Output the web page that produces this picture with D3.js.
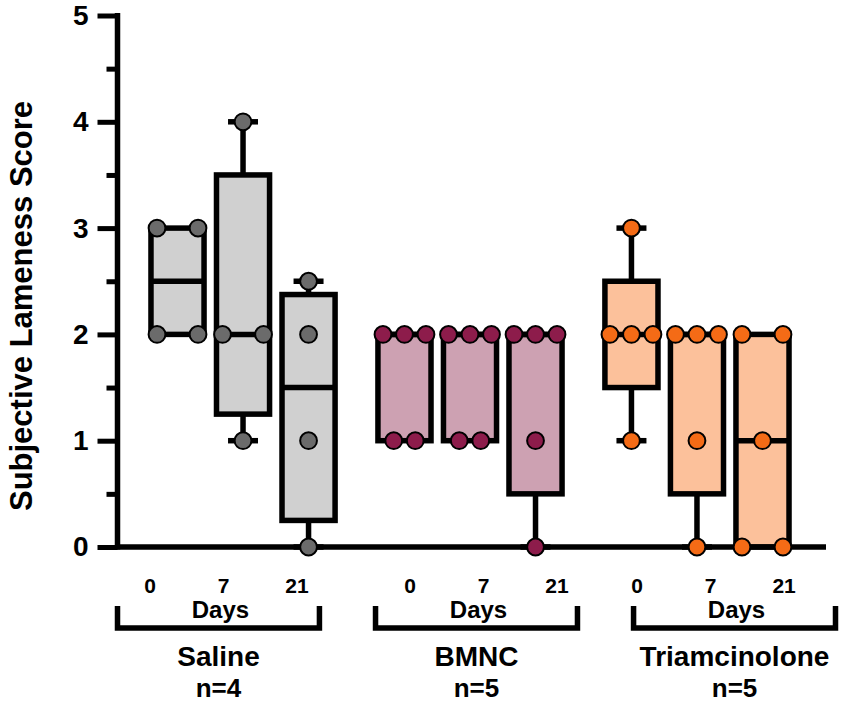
<!DOCTYPE html>
<html>
<head>
<meta charset="utf-8">
<script src="https://cdn.jsdelivr.net/npm/d3@7"></script>
<style>
  html, body { margin: 0; padding: 0; background: #ffffff; }
  svg { display: block; font-family: "Liberation Sans", Arial, sans-serif; }
</style>
</head>
<body>
<svg id="chart" width="851" height="714"></svg>
<script>
// ---------------- data ----------------
const groups = ["Saline", "BMNC", "Triamcinolone"];
const groupN = ["n=4", "n=5", "n=5"];
const days = ["0", "7", "21"];
const salineScores = [[3, 3, 2, 2], [4, 2, 2, 1], [2.5, 2, 1, 0]];
const bmncScores   = [[2, 2, 2, 1, 1], [2, 2, 2, 1, 1], [2, 2, 2, 1, 0]];
const triamScores  = [[3, 2, 2, 2, 1], [2, 2, 2, 1, 0], [2, 2, 1, 0, 0]];
const yTicks = [0, 1, 2, 3, 4, 5];
const yMinorTicks = [0.5, 1.5, 2.5, 3.5, 4.5];
const boxFills = ["#d0d0d0", "#cda1b2", "#fcc19b"];
const pointFills = ["#6b6b6b", "#8d1c4b", "#f46b16"];

// ---------------- layout ----------------
const svg = d3.select("#chart");
const axisX = 117.5;
const plotRight = 826;

const y = d3.scaleLinear().domain([0, 5]).range([547, 15.5]);
const xGroup = d3.scaleBand().domain(groups).range([144.75, 795.25]).paddingInner(0.134).paddingOuter(0);
const xDay = d3.scaleBand().domain(days).range([0, xGroup.bandwidth()]).padding(0);
const boxW = xDay.step() * 0.81;

// annotation (bracket) scales
const xBracket = d3.scaleBand().domain(groups).range([115, 838]).paddingInner(0.198).paddingOuter(0);
const xDayLabel = d3.scalePoint().domain(days).range([35, 182]);
const dayLabelShift = { "Saline": 0, "BMNC": 2, "Triamcinolone": -29 };

const allScores = [salineScores, bmncScores, triamScores];

// Prism-style quartiles (n+1 method)
function q(sorted, p) {
  const n = sorted.length;
  let pos = p * (n + 1);
  if (pos < 1) pos = 1;
  if (pos > n) pos = n;
  const lo = Math.floor(pos), hi = Math.ceil(pos);
  return sorted[lo - 1] + (pos - lo) * (sorted[hi - 1] - sorted[lo - 1]);
}

const boxes = [];
groups.forEach((g, gi) => {
  days.forEach((d, di) => {
    const vals = allScores[gi][di];
    const s = vals.slice().sort((a, b) => a - b);
    const cx = xGroup(g) + xDay(d) + xDay.bandwidth() / 2;
    // swarm offsets
    const counts = d3.rollup(vals, v => v.length, v => v);
    const maxK = d3.max(Array.from(counts.values()));
    const unit = maxK >= 3 ? 21.5 : 41;
    const pts = [];
    const order = Array.from(counts.keys()).sort((a, b) => b - a);
    order.forEach(v => {
      const k = counts.get(v);
      for (let j = 0; j < k; j++) pts.push({ v, dx: (j - (k - 1) / 2) * unit });
    });
    boxes.push({
      gi, cx,
      min: s[0], max: s[s.length - 1],
      q1: q(s, 0.25), med: q(s, 0.5), q3: q(s, 0.75),
      pts
    });
  });
});

const ink = "#000000";
const lw = 5.5;

// boxes
const gBox = svg.append("g");
boxes.forEach(b => {
  // whiskers
  if (b.max > b.q3) {
    gBox.append("line").attr("x1", b.cx).attr("x2", b.cx).attr("y1", y(b.q3)).attr("y2", y(b.max))
      .attr("stroke", ink).attr("stroke-width", lw);
    gBox.append("line").attr("x1", b.cx - 15).attr("x2", b.cx + 15).attr("y1", y(b.max)).attr("y2", y(b.max))
      .attr("stroke", ink).attr("stroke-width", lw);
  }
  if (b.min < b.q1) {
    gBox.append("line").attr("x1", b.cx).attr("x2", b.cx).attr("y1", y(b.q1)).attr("y2", y(b.min))
      .attr("stroke", ink).attr("stroke-width", lw);
    gBox.append("line").attr("x1", b.cx - 15).attr("x2", b.cx + 15).attr("y1", y(b.min)).attr("y2", y(b.min))
      .attr("stroke", ink).attr("stroke-width", lw);
  }
  gBox.append("rect")
    .attr("x", b.cx - boxW / 2).attr("width", boxW)
    .attr("y", y(b.q3)).attr("height", y(b.q1) - y(b.q3))
    .attr("fill", boxFills[b.gi]).attr("stroke", ink).attr("stroke-width", lw);
  gBox.append("line")
    .attr("x1", b.cx - boxW / 2).attr("x2", b.cx + boxW / 2)
    .attr("y1", y(b.med)).attr("y2", y(b.med))
    .attr("stroke", ink).attr("stroke-width", lw);
});

// axes
const yAxis = svg.append("g").attr("transform", `translate(${axisX},0)`)
  .call(d3.axisLeft(y).tickValues(yTicks).tickSize(20).tickPadding(9).tickFormat(d3.format("d")));
yAxis.select(".domain").remove();
yAxis.selectAll(".tick line").attr("stroke", ink).attr("stroke-width", 5);
yAxis.selectAll(".tick text")
  .attr("font-family", "Liberation Sans, Arial, sans-serif")
  .attr("font-size", 28).attr("font-weight", "bold").attr("fill", ink);
const yMinor = svg.append("g").attr("transform", `translate(${axisX},0)`)
  .call(d3.axisLeft(y).tickValues(yMinorTicks).tickSize(11).tickFormat(""));
yMinor.select(".domain").remove();
yMinor.selectAll(".tick line").attr("stroke", ink).attr("stroke-width", 5);

svg.append("line").attr("x1", axisX).attr("x2", axisX).attr("y1", y(5) - 2.5).attr("y2", y(0) + 2.5)
  .attr("stroke", ink).attr("stroke-width", 5.5);
svg.append("line").attr("x1", axisX - 2.5).attr("x2", plotRight).attr("y1", y(0)).attr("y2", y(0))
  .attr("stroke", ink).attr("stroke-width", 5.5);

// points
boxes.forEach(b => {
  svg.append("g").selectAll("circle").data(b.pts).join("circle")
    .attr("cx", p => b.cx + p.dx)
    .attr("cy", p => y(p.v))
    .attr("r", 8.4)
    .attr("fill", pointFills[b.gi])
    .attr("stroke", ink).attr("stroke-width", 2);
});

// y title
svg.append("text")
  .attr("transform", "translate(32,306) rotate(-90)")
  .attr("text-anchor", "middle")
  .attr("font-size", 31).attr("font-weight", "bold").attr("fill", ink)
  .text("Subjective Lameness Score");

// brackets and labels
groups.forEach((g, gi) => {
  const x0 = xBracket(g), x1 = x0 + xBracket.bandwidth(), xc = (x0 + x1) / 2;
  svg.append("path")
    .attr("d", `M${x0 + 2.5},606 V628 H${x1 - 2.5} V606`)
    .attr("fill", "none").attr("stroke", ink).attr("stroke-width", 5.5);
  days.forEach(d => {
    svg.append("text")
      .attr("x", x0 + xDayLabel(d) + dayLabelShift[g]).attr("y", 593)
      .attr("text-anchor", "middle").attr("font-size", 21).attr("font-weight", "bold").attr("fill", ink)
      .text(d);
  });
  svg.append("text").attr("x", xc + 2).attr("y", 618)
    .attr("text-anchor", "middle").attr("font-size", 24).attr("font-weight", "bold").attr("fill", ink)
    .text("Days");
  svg.append("text").attr("x", xc).attr("y", 666)
    .attr("text-anchor", "middle").attr("font-size", 28).attr("font-weight", "bold").attr("fill", ink)
    .text(g);
  svg.append("text").attr("x", xc).attr("y", 697)
    .attr("text-anchor", "middle").attr("font-size", 26).attr("font-weight", "bold").attr("fill", ink)
    .text(groupN[gi]);
});
</script>
</body>
</html>
